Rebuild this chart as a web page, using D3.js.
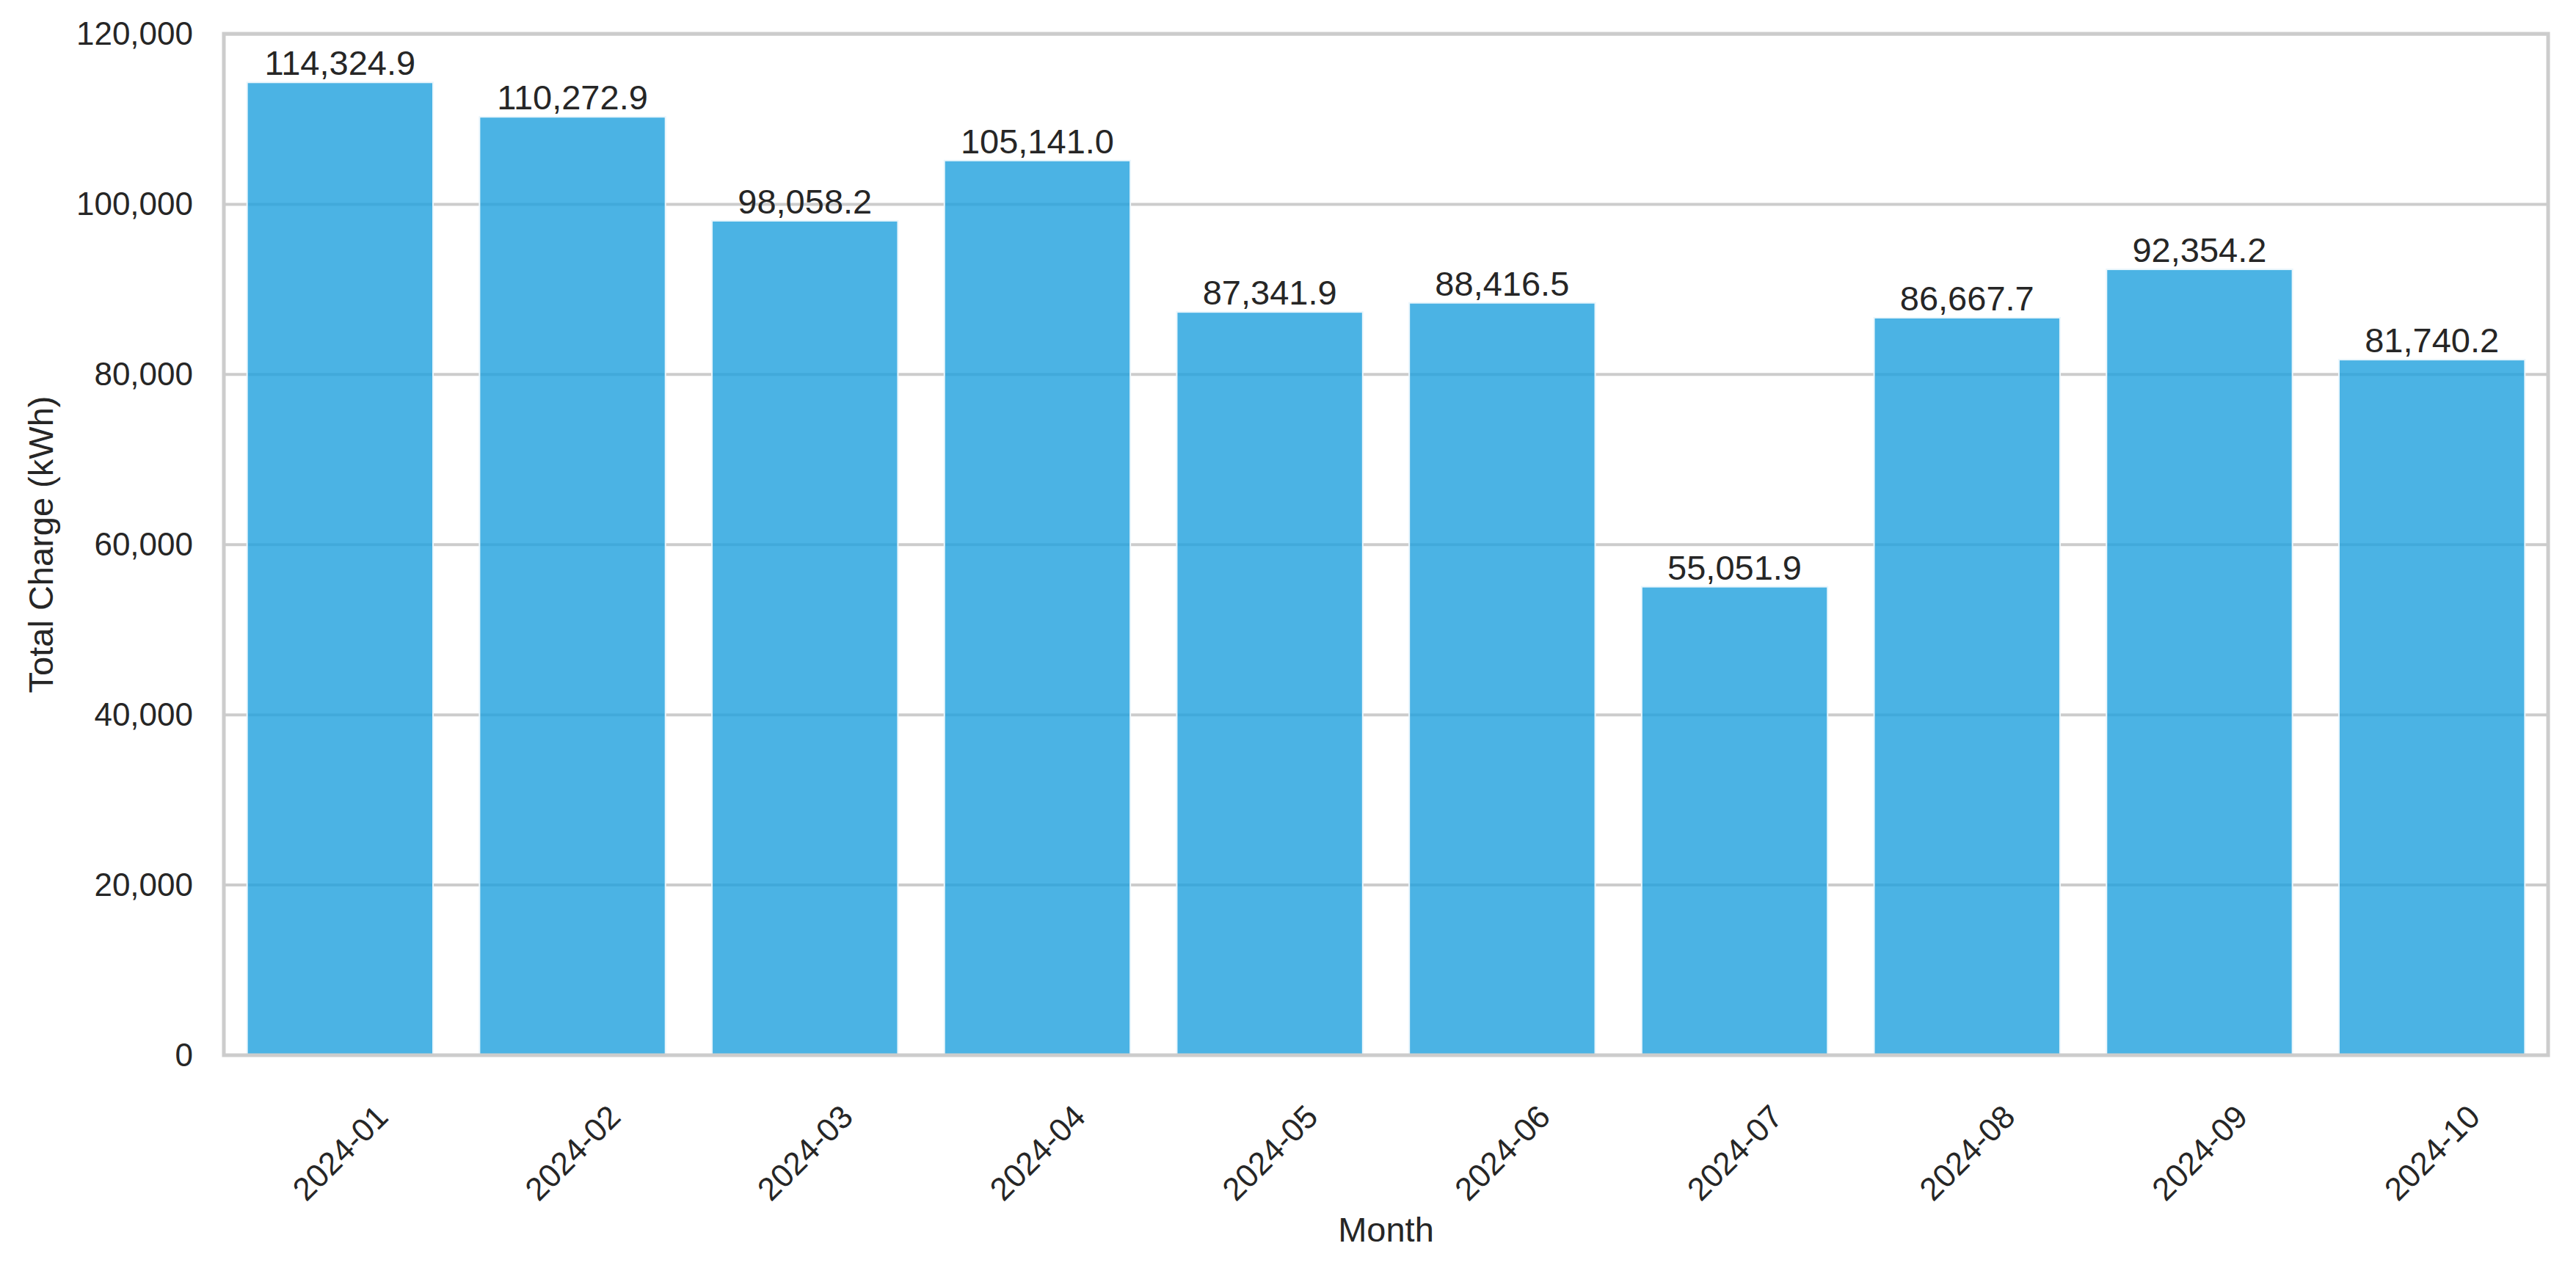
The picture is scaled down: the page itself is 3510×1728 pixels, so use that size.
<!DOCTYPE html>
<html><head><meta charset="utf-8">
<script src="https://cdn.jsdelivr.net/npm/d3@7"></script>
<style>html,body{margin:0;padding:0;background:#fff;}</style>
</head><body>
<svg id="chart" width="3510" height="1728"></svg>
<script>
const months = ["2024-01","2024-02","2024-03","2024-04","2024-05","2024-06","2024-07","2024-08","2024-09","2024-10"];
const totalCharge = [114324.9,110272.9,98058.2,105141.0,87341.9,88416.5,55051.9,86667.7,92354.2,81740.2];
const yTicks = [0,20000,40000,60000,80000,100000,120000];
const xLabel = "Month";
const yLabel = "Total Charge (kWh)";

const W = 3510, H = 1728;
const m = {left: 305, right: W - 3472, top: 46, bottom: H - 1438};
const iw = W - m.left - m.right, ih = H - m.top - m.bottom;
const font = "'Liberation Sans', Arial, sans-serif";
const txt = "#262626";

const svg = d3.select("#chart").style("font-family", font);
svg.append("rect").attr("width", W).attr("height", H).attr("fill", "#fff");
const g = svg.append("g").attr("transform", `translate(${m.left},${m.top})`);

const x = d3.scaleBand().domain(months).range([0, iw]).paddingInner(0.2).paddingOuter(0.1);
const y = d3.scaleLinear().domain([0, 120041]).range([ih, 0]);

// grid
g.append("g").selectAll("line").data(yTicks).join("line")
  .attr("x1", 0).attr("x2", iw)
  .attr("y1", d => y(d)).attr("y2", d => y(d))
  .attr("stroke", "#cccccc").attr("stroke-width", 4);

// bars
g.append("g").selectAll("rect").data(months).join("rect")
  .attr("x", d => x(d)).attr("width", x.bandwidth())
  .attr("y", (d,i) => y(totalCharge[i]))
  .attr("height", (d,i) => ih - y(totalCharge[i]))
  .attr("fill", "rgb(30,160,221)").attr("fill-opacity", 0.8)
  .attr("stroke", "#eaf6fc").attr("stroke-width", 2);

// value labels
const fmt = d3.format(",.1f");
g.append("g").selectAll("text").data(months).join("text")
  .attr("x", d => x(d) + x.bandwidth()/2)
  .attr("y", (d,i) => y(totalCharge[i]) - 10)
  .attr("text-anchor", "middle")
  .attr("font-size", 47).attr("fill", txt)
  .text((d,i) => fmt(totalCharge[i]));

// frame
g.append("rect").attr("x", 0).attr("y", 0).attr("width", iw).attr("height", ih)
  .attr("fill", "none").attr("stroke", "#cccccc").attr("stroke-width", 5);

// y axis
const yAxis = d3.axisLeft(y).tickValues(yTicks).tickFormat(d3.format(",")).tickSize(0).tickPadding(42);
const ya = g.append("g").call(yAxis);
ya.select(".domain").remove();
ya.selectAll("text").attr("font-size", 44).attr("fill", txt).attr("font-family", font);

// x axis
const xAxis = d3.axisBottom(x).tickSize(0).tickPadding(0);
const xa = g.append("g").attr("transform", `translate(0,${ih})`).call(xAxis);
xa.select(".domain").remove();
const fs = 44;
xa.selectAll("text")
  .attr("font-size", fs).attr("fill", txt).attr("font-family", font)
  .attr("text-anchor", "middle").attr("dy", null)
  .attr("dominant-baseline", "central")
  .each(function() {
    const len = this.getComputedTextLength();
    const half = (len + fs*0.75) * Math.SQRT1_2 / 2;
    d3.select(this).attr("y", null)
      .attr("transform", `translate(0,${64 + half}) rotate(-45)`);
  });

// axis labels
svg.append("text").attr("x", m.left + iw/2).attr("y", 1692)
  .attr("text-anchor", "middle").attr("font-size", 47).attr("fill", txt).text(xLabel);
svg.append("text").attr("transform", `translate(72,${m.top + ih/2}) rotate(-90)`)
  .attr("text-anchor", "middle").attr("font-size", 47).attr("fill", txt).text(yLabel);
</script>
</body></html>
